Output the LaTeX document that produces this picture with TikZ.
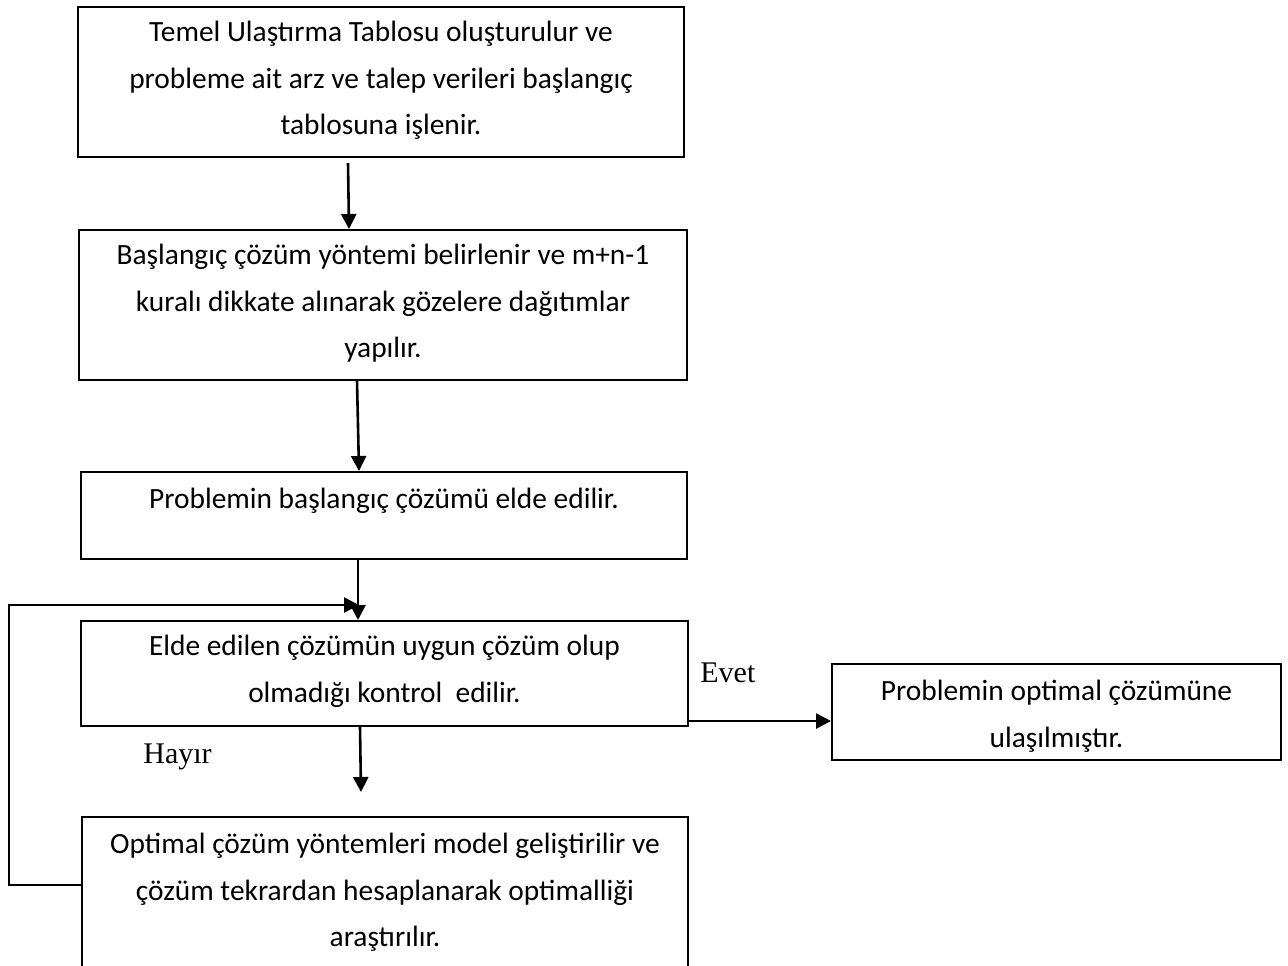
\documentclass[tikz,border=0pt]{standalone}
\usepackage{fontspec}
\setmainfont{Carlito}
\newfontfamily\timesfont{Liberation Serif}
\usetikzlibrary{arrows.meta,positioning}

\tikzset{
  box/.style={draw, line width=1pt, minimum width=#1, inner sep=0pt},
  txt/.style={align=center, inner sep=0pt, font=\fontsize{14.7}{23.25}\selectfont},
  arr/.style={line width=1.3pt, -{Triangle[length=7.5pt,width=7.5pt]}},
  lbl/.style={font=\timesfont\fontsize{15}{18}\selectfont, inner sep=0pt, anchor=base west}
}

\begin{document}
\begin{tikzpicture}[x=0.5pt,y=-0.5pt]
        \clip (0,0) rectangle (1288,965);

        % Kutular
        \node[box=303pt, minimum height=75pt] (b1) at (381,82) {};
        \node[box=304pt, minimum height=75pt] (b2) at (383,305) {};
        \node[box=303pt, minimum height=43.5pt] (b3) at (384,515.5) {};
        \node[box=303.5pt, minimum height=52.5pt] (b4) at (384.5,673.5) {};
        \node[box=224.5pt, minimum height=48pt] (b5) at (1056.5,712) {};
        \node[box=303pt, minimum height=78pt] (b6) at (385,895) {};

        % Kutu metinleri
        \node[txt, below=7.5pt of b1.north] (t1) {Temel Ulaştırma Tablosu oluşturulur ve\\probleme ait arz ve talep verileri başlangıç\\tablosuna işlenir.};
        \node[txt, below=7.5pt of b2.north] (t2) {Başlangıç çözüm yöntemi belirlenir ve m+n-1\\kuralı dikkate alınarak gözelere dağıtımlar\\yapılır.};
        \node[txt, below=8.5pt of b3.north] (t3) {Problemin başlangıç çözümü elde edilir.};
        \node[txt, below=7.5pt of b4.north] (t4) {Elde edilen çözümün uygun çözüm olup\\olmadığı kontrol\ \ edilir.};
        \node[txt, below=8.5pt of b5.north] (t5) {Problemin optimal çözümüne\\ulaşılmıştır.};
        \node[txt, below=8.5pt of b6.north] (t6) {Optimal çözüm yöntemleri model geliştirilir ve\\çözüm tekrardan hesaplanarak optimalliği\\araştırılır.};

        % Oklar
        \draw[arr] ([xshift=-16.5pt,yshift=-2.5pt]b1.south) -- ([xshift=-17pt]b2.north);
        \draw[arr] ([xshift=-13pt]b2.south) -- ([xshift=-12.5pt]b3.north);
        \draw[arr] ([xshift=-13pt]b3.south) -- ([xshift=-13.25pt]b4.north);
        \coordinate (hayirend) at (361,792);
        \draw[arr] ([xshift=-12.25pt]b4.south) -- (hayirend);
        \draw[arr] ([yshift=-23.75pt]b4.east) -- ([yshift=-4.5pt]b5.west);

        % Geri besleme
        \coordinate (loopcorner) at (9,885);
        \coordinate (loopend) at (359,605);
        \draw[arr] ([yshift=5pt]b6.west) -- (loopcorner) |- (loopend);

        % Etiketler
        \node[lbl] (evet) at (700,682) {Evet};
        \node[lbl] (hayir) at (143,763) {Hayır};
\end{tikzpicture}
\end{document}
